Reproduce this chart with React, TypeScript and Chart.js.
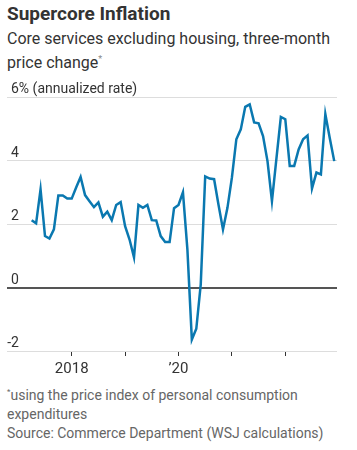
import React, { useEffect, useRef } from "react";
import { Chart, registerables } from "chart.js";

Chart.register(...registerables);

// Months counted from Jan 2018 (0 = Jan 2018); first value is Apr 2017
const FIRST_MONTH = -9;
const supercore = [
  2.12, 2.02, 3.09, 1.62, 1.54, 1.83, 2.9, 2.9, 2.8, // Apr17-Dec17
  2.8, 3.15, 3.48, 2.91, 2.72, 2.53, 2.68, 2.23, 2.39, 2.12, 2.6, 2.69, // 2018
  1.93, 1.51, 0.95, 2.6, 2.51, 2.6, 2.12, 2.11, 1.62, 1.43, 1.43, 2.5, // 2019
  2.6, 3.0, 1.2, -1.64, -1.3, 0.1, 3.5, 3.43, 3.41, 2.6, 1.83, 2.51, // 2020
  3.46, 4.67, 4.98, 5.69, 5.77, 5.2, 5.17, 4.77, 3.98, 2.72, 4.05, 5.37, // 2021
  5.3, 3.83, 3.83, 4.35, 4.67, 4.79, 3.12, 3.62, 3.56, 5.46, 4.7, 3.98, // 2022
];

const xTickMonths = [0, 12, 24, 36, 48];
const xTickLabels = ["2018", "", "\u201920", "", ""];
const yTickValues = [-2, 0, 2, 4, 6];
const yTickLabels = ["-2", "0", "2", "4", "6% (annualized rate)"];

const FONT = "Roboto, 'Noto Sans', sans-serif";

const yLabelPlugin = {
  id: "yLabels",
  beforeDatasetsDraw(chart: any) {
    const { ctx, scales } = chart;
    const y = scales.y;
    ctx.save();
    ctx.font = `14px ${FONT}`;
    ctx.fillStyle = "#333";
    ctx.textAlign = "left";
    ctx.textBaseline = "alphabetic";
    yTickValues.forEach((v, i) => {
      const label = yTickLabels[i];
      let x = chart.chartArea.left + 4;
      if (label.startsWith("-")) x -= ctx.measureText("-").width;
      ctx.fillText(label, x, y.getPixelForValue(v) - 4);
    });
    ctx.restore();
  },
};

export default function App() {
  const ref = useRef<HTMLCanvasElement | null>(null);

  useEffect(() => {
    if (!ref.current) return;
    const points = supercore.map((v, i) => ({ x: FIRST_MONTH + i, y: v }));
    const chart = new Chart(ref.current, {
      type: "line",
      data: {
        datasets: [
          {
            data: points,
            borderColor: "#0a78b0",
            borderWidth: 2.5,
            pointRadius: 0,
            tension: 0,
            fill: false,
          },
        ],
      },
      options: {
        animation: false,
        responsive: false,
        maintainAspectRatio: false,
        layout: { padding: { top: 17, left: 7, right: 20, bottom: 0 } },
        plugins: { legend: { display: false }, tooltip: { enabled: false } },
        scales: {
          x: {
            type: "linear",
            min: -14.54,
            max: 59.62,
            afterBuildTicks: (s: any) => {
              s.ticks = xTickMonths.map((v) => ({ value: v }));
            },
            afterFit: (s: any) => {
              s.height = 29;
            },
            border: { display: false },
            grid: {
              drawOnChartArea: false,
              drawTicks: true,
              tickLength: 5,
              color: "#333",
              lineWidth: 1,
            },
            ticks: {
              autoSkip: false,
              maxRotation: 0,
              padding: 4,
              color: "#333",
              font: { family: FONT, size: 15 },
              callback: (v: any) => {
                const i = xTickMonths.indexOf(Number(v));
                return i >= 0 ? xTickLabels[i] : "";
              },
            },
          },
          y: {
            min: -2,
            max: 6,
            afterBuildTicks: (s: any) => {
              s.ticks = yTickValues.map((v) => ({ value: v }));
            },
            afterFit: (s: any) => {
              s.width = 0;
            },
            border: { display: false },
            grid: {
              drawTicks: false,
              color: (c: any) => (c.tick && c.tick.value === 0 ? "#555" : "#ddd"),
              lineWidth: (c: any) => (c.tick && c.tick.value === 0 ? 2 : 1),
            },
            ticks: { display: false },
          },
        },
      },
      plugins: [yLabelPlugin],
    });
    return () => chart.destroy();
  }, []);

  return (
    <div
      style={{
        position: "absolute",
        left: 0,
        top: 0,
        width: 357,
        height: 450,
        background: "#fff",
        fontFamily: FONT,
        overflow: "hidden",
      }}
    >
      <div
        style={{
          position: "absolute",
          left: 7,
          top: 2,
          fontSize: 19,
          fontWeight: 700,
          color: "#333",
          lineHeight: "24px",
        }}
      >
        Supercore Inflation
      </div>
      <div
        style={{
          position: "absolute",
          left: 7,
          top: 28,
          width: 345,
          fontSize: 16,
          color: "#333",
          lineHeight: "21px",
        }}
      >
        Core services excluding housing, three-month price change
        <sup style={{ fontSize: 9, color: "#888" }}>*</sup>
      </div>
      <canvas
        ref={ref}
        width={357}
        height={300}
        style={{ position: "absolute", left: 0, top: 80, width: 357, height: 300 }}
      />
      <div
        style={{
          position: "absolute",
          left: 7,
          top: 382,
          width: 345,
          fontSize: 14,
          color: "#666",
          lineHeight: "19px",
        }}
      >
        <div>
          <sup style={{ fontSize: 8 }}>*</sup>using the price index of personal consumption expenditures
        </div>
        <div>Source: Commerce Department (WSJ calculations)</div>
      </div>
    </div>
  );
}
